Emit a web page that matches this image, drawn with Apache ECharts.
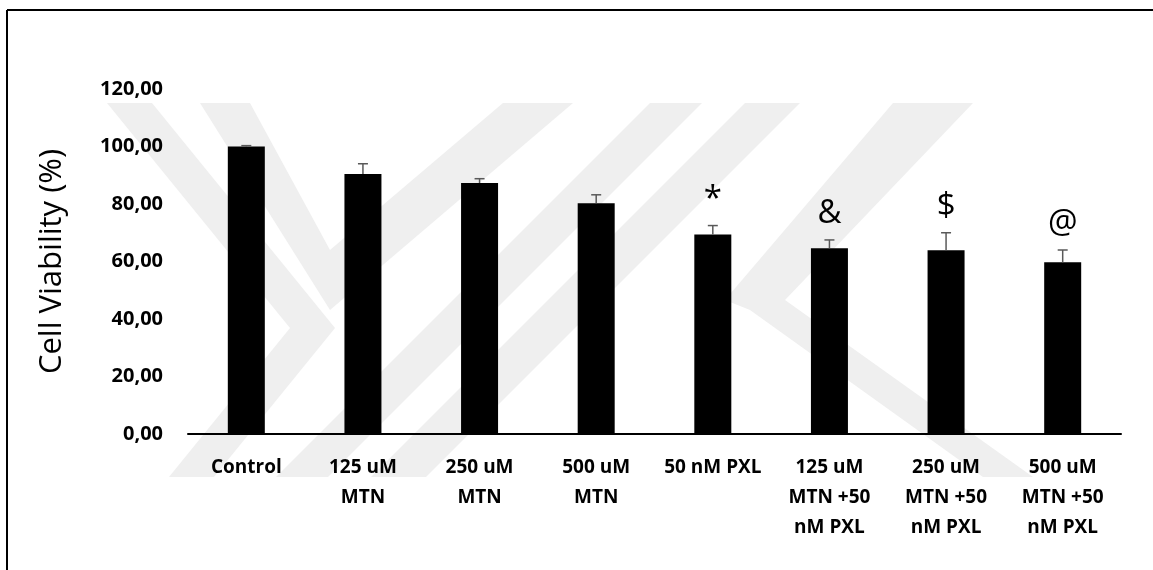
<!DOCTYPE html>
<html>
<head>
<meta charset="utf-8">
<script src="https://cdn.jsdelivr.net/npm/echarts@6/dist/echarts.min.js"></script>
<style>
  html, body { margin: 0; padding: 0; background: #fff; }
  #chart { width: 1153px; height: 570px; }
</style>
</head>
<body>
<div id="chart"></div>
<script>
// groups on the x axis
const categories = [
  'Control',
  '125 uM\nMTN',
  '250 uM\nMTN',
  '500 uM\nMTN',
  '50 nM PXL',
  '125 uM\nMTN +50\nnM PXL',
  '250 uM\nMTN +50\nnM PXL',
  '500 uM\nMTN +50\nnM PXL'
];
// mean cell viability (%) and its error (SD)
const viability = [100.0, 90.4, 87.3, 80.3, 69.4, 64.6, 63.9, 59.7];
const errors = [0.3, 3.6, 1.5, 2.9, 3.1, 2.9, 6.1, 4.3];
// significance marks above the error bars
const marks = ['', '', '', '', '*', '&', '$', '@'];
const yTicks = [0, 20, 40, 60, 80, 100, 120];

const chart = echarts.init(document.getElementById('chart'));
const grey = '#efefef';

// faint background logo made of diagonal stripes
const band = (pts) => ({type: 'polygon', silent: true, z: -10, shape: {points: pts}, style: {fill: grey}});

chart.setOption({
  animation: false,
  backgroundColor: '#fff',
  graphic: [
    band([[107, 103], [152, 103], [335, 328], [214, 477], [169, 477], [290, 328]]),
    band([[200, 103], [250, 103], [330, 250], [503, 103], [573, 103], [330, 310]]),
    band([[650, 103], [702, 103], [328, 477], [276, 477]]),
    band([[745, 103], [800, 103], [426, 477], [371, 477]]),
    band([[893, 103], [973, 103], [785, 300], [1033, 477], [983, 477], [750, 310], [725, 300]]),
    {type: 'line', shape: {x1: 7, y1: 10, x2: 1153, y2: 10}, style: {stroke: '#000', lineWidth: 2}},
    {type: 'line', shape: {x1: 7, y1: 10, x2: 7, y2: 570}, style: {stroke: '#000', lineWidth: 2}}
  ],
  grid: {left: 188, right: 32, top: 89, bottom: 136},
  xAxis: {
    type: 'category',
    data: categories,
    axisLine: {lineStyle: {color: '#000', width: 2}},
    axisTick: {show: false},
    axisLabel: {
      interval: 0,
      color: '#000',
      fontFamily: 'Open Sans',
      fontWeight: 'bold',
      fontSize: 19,
      lineHeight: 30,
      margin: 19
    }
  },
  yAxis: {
    type: 'value',
    min: 0,
    max: 120,
    interval: 20,
    name: 'Cell Viability (%)',
    nameLocation: 'middle',
    nameRotate: 90,
    nameGap: 120,
    nameTextStyle: {color: '#000', fontFamily: 'Open Sans', fontSize: 31},
    axisLine: {show: false},
    axisTick: {show: false},
    splitLine: {show: false},
    axisLabel: {
      color: '#000',
      fontFamily: 'Open Sans',
      fontWeight: 'bold',
      fontSize: 20,
      margin: 25,
      formatter: (v) => yTicks.includes(v) ? v.toFixed(2).replace('.', ',') : ''
    }
  },
  series: [
    {
      type: 'bar',
      data: viability,
      barWidth: 37,
      itemStyle: {color: '#000'}
    },
    {
      type: 'custom',
      data: viability.map((v, i) => [i, v, errors[i], marks[i]]),
      encode: {x: 0, y: 1},
      z: 5,
      renderItem(params, api) {
        const i = api.value(0);
        const top = api.coord([i, api.value(1) + api.value(2)]);
        const base = api.coord([i, api.value(1)]);
        const cap = 5;
        const children = [
          {type: 'line', shape: {x1: top[0], y1: base[1], x2: top[0], y2: top[1]}, style: {stroke: '#595959', lineWidth: 1.5}},
          {type: 'line', shape: {x1: top[0] - cap, y1: top[1], x2: top[0] + cap, y2: top[1]}, style: {stroke: '#595959', lineWidth: 1.5}}
        ];
        const mark = marks[params.dataIndex];
        if (mark) {
          children.push({
            type: 'text',
            style: {
              text: mark, x: top[0], y: top[1] - 26,
              align: 'center', verticalAlign: 'middle',
              fill: '#000', font: '33px "Open Sans"'
            }
          });
        }
        return {type: 'group', children};
      }
    }
  ]
});
</script>
</body>
</html>
